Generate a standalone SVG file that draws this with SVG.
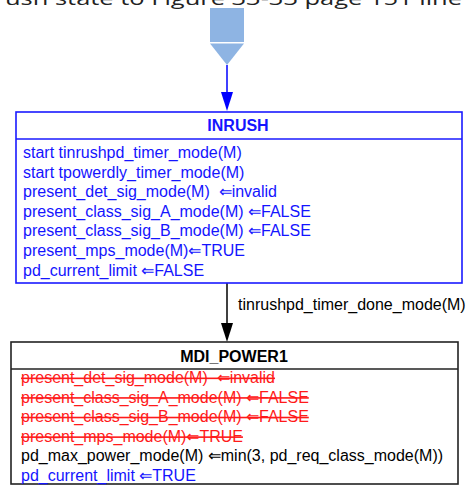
<svg xmlns="http://www.w3.org/2000/svg" width="470" height="486" viewBox="0 0 470 486">
<style>
.t{font-family:"Liberation Sans",Arial,sans-serif;font-size:16px;white-space:pre}
.b{fill:#1414ff}
.k{fill:#000}
.r{fill:#ff1a1a;text-decoration:line-through}
.h{font-weight:bold;text-anchor:middle}
</style>
<text x="5" y="5" style="font-family:'Open Sans','Noto Sans',sans-serif;font-size:19px" fill="#222" textLength="457" lengthAdjust="spacingAndGlyphs">ush state to Figure 33-33 page 151 line</text>
<g id="entry">
<rect x="210" y="8" width="34" height="34" fill="#8eb4e3"/>
<polygon points="210,43.5 244,43.5 227,65" fill="#8eb4e3"/>
</g>
<g id="connectors">
<line x1="227" y1="65" x2="227" y2="93" stroke="#0000ff" stroke-width="1.5"/>
<polygon points="221,92 233,92 227,111" fill="#0000ff"/>
<line x1="227" y1="283" x2="227" y2="324" stroke="#000" stroke-width="1.5"/>
<polygon points="221,323 233,323 227,342" fill="#000"/>
<text class="t k" x="238" y="310">tinrushpd_timer_done_mode(M)</text>
</g>
<g id="INRUSH">
<rect x="16" y="112" width="446" height="171" fill="#fff" stroke="#1a1aff" stroke-width="1.6"/>
<line x1="16" y1="139" x2="462" y2="139" stroke="#1a1aff" stroke-width="1.6"/>
<text class="t b h" x="238" y="131">INRUSH</text>
<text class="t b" x="23" y="158">start tinrushpd_timer_mode(M)</text>
<text class="t b" x="23" y="177.6">start tpowerdly_timer_mode(M)</text>
<text class="t b" x="23" y="197.2">present_det_sig_mode(M)  ⇐invalid</text>
<text class="t b" x="23" y="216.8">present_class_sig_A_mode(M) ⇐FALSE</text>
<text class="t b" x="23" y="236.4">present_class_sig_B_mode(M) ⇐FALSE</text>
<text class="t b" x="23" y="256">present_mps_mode(M)⇐TRUE</text>
<text class="t b" x="23" y="275.6">pd_current_limit ⇐FALSE</text>
</g>
<g id="MDI_POWER1">
<rect x="11" y="342" width="447" height="142" fill="#fff" stroke="#222" stroke-width="1.6"/>
<line x1="11" y1="369" x2="458" y2="369" stroke="#222" stroke-width="1.6"/>
<text class="t k h" x="234" y="362">MDI_POWER1</text>
<text class="t r" x="21" y="383">present_det_sig_mode(M)  ⇐invalid</text>
<text class="t r" x="21" y="402.6">present_class_sig_A_mode(M) ⇐FALSE</text>
<text class="t r" x="21" y="422.2">present_class_sig_B_mode(M) ⇐FALSE</text>
<text class="t r" x="21" y="441.8">present_mps_mode(M)⇐TRUE</text>
<text class="t k" x="21" y="461.4">pd_max_power_mode(M) ⇐min(3, pd_req_class_mode(M))</text>
<text class="t b" x="21" y="481">pd_current_limit ⇐TRUE</text>
</g>
</svg>
